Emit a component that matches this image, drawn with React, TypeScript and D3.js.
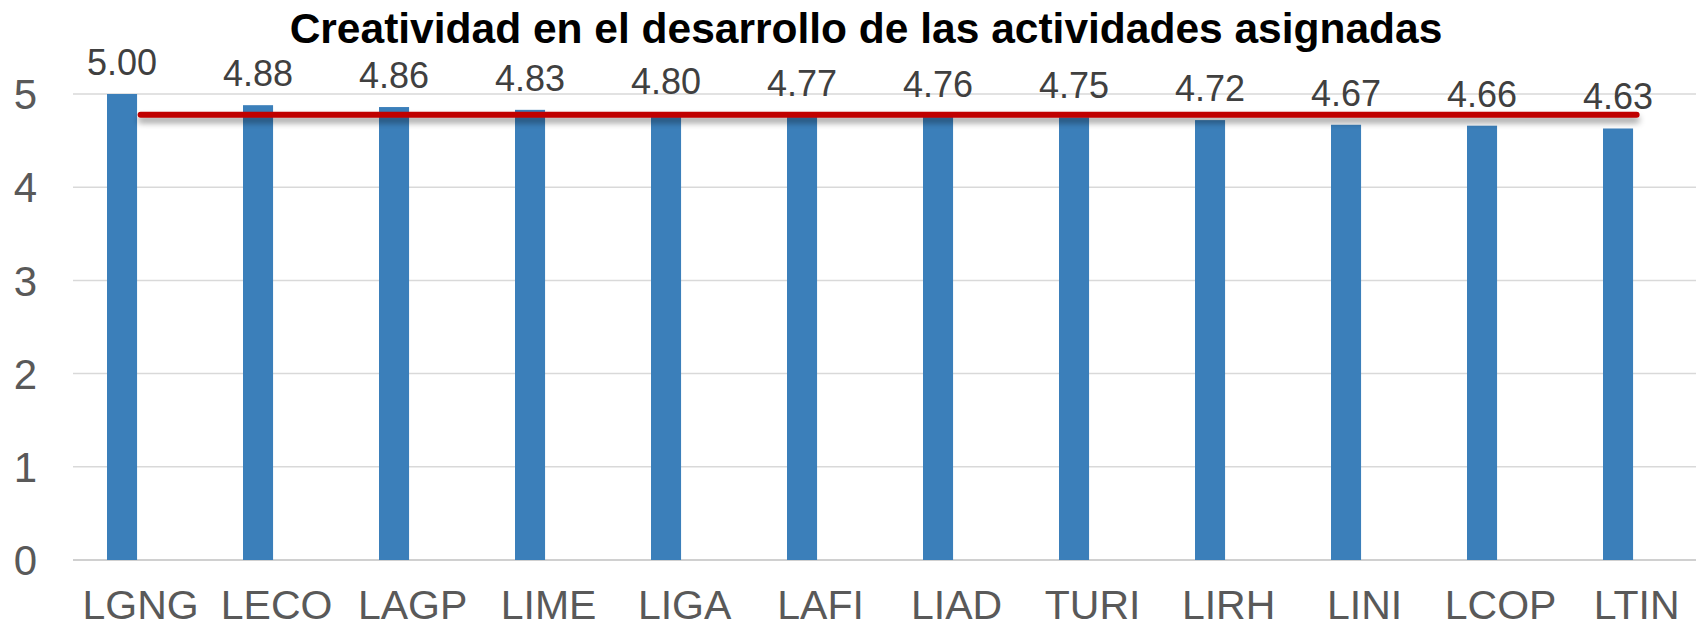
import React, { useEffect, useRef } from 'react';
import * as d3 from 'd3';

const width = 1696;
const height = 627;

const categories = ['LGNG', 'LECO', 'LAGP', 'LIME', 'LIGA', 'LAFI', 'LIAD', 'TURI', 'LIRH', 'LINI', 'LCOP', 'LTIN'];
const values = [5.0, 4.88, 4.86, 4.83, 4.8, 4.77, 4.76, 4.75, 4.72, 4.67, 4.66, 4.63];
const yTicks = [0, 1, 2, 3, 4, 5];
const title = 'Creatividad en el desarrollo de las actividades asignadas';

const CreatividadChart: React.FC = () => {
  const ref = useRef<SVGSVGElement>(null);

  useEffect(() => {
    document.body.style.margin = '0';
    if (!ref.current) return;
    const svg = d3.select(ref.current);
    svg.selectAll('*').remove();

    const font = '"Liberation Sans", Arial, sans-serif';
    const plotLeft = 72.6;
    const band = 136;

    const x = d3
      .scaleBand<string>()
      .domain(categories)
      .range([plotLeft, plotLeft + band * categories.length])
      .padding(0);
    const y = d3.scaleLinear().domain([0, 5]).range([560, 94]);
    const bw = x.bandwidth();
    const barOffset = bw * 0.253;
    const barWidth = bw * 0.221;

    const avg = d3.mean(values) as number;

    // horizontal line has zero-height bbox, so the filter needs user space units
    const defs = svg.append('defs');
    const shadow = defs
      .append('filter')
      .attr('id', 'lineShadow')
      .attr('filterUnits', 'userSpaceOnUse')
      .attr('x', 0)
      .attr('y', 0)
      .attr('width', width)
      .attr('height', height);
    shadow
      .append('feDropShadow')
      .attr('dx', 0)
      .attr('dy', 5)
      .attr('stdDeviation', 3)
      .attr('flood-color', '#000')
      .attr('flood-opacity', 0.4);

    // gridlines
    svg
      .append('g')
      .selectAll('line')
      .data(yTicks)
      .enter()
      .append('line')
      .attr('x1', 73)
      .attr('x2', width)
      .attr('y1', d => y(d))
      .attr('y2', d => y(d))
      .attr('stroke', d => (d === 0 ? '#d0d0d0' : '#d9d9d9'))
      .attr('stroke-width', d => (d === 0 ? 2 : 1.5));

    // y labels
    svg
      .append('g')
      .selectAll('text')
      .data(yTicks)
      .enter()
      .append('text')
      .attr('x', 37)
      .attr('y', d => y(d))
      .attr('dy', '0.36em')
      .attr('text-anchor', 'end')
      .attr('font-family', font)
      .attr('font-size', 42)
      .attr('fill', '#595959')
      .text(d => d);

    // bars
    svg
      .append('g')
      .selectAll('rect')
      .data(values)
      .enter()
      .append('rect')
      .attr('x', (d, i) => (x(categories[i]) as number) + barOffset)
      .attr('y', d => y(d))
      .attr('width', barWidth)
      .attr('height', d => y(0) - y(d))
      .attr('fill', '#3b7fba');

    // average line
    const line = d3
      .line<number>()
      .x((d, i) => (x(categories[i]) as number) + bw / 2)
      .y(() => y(avg));
    svg
      .append('path')
      .datum(values)
      .attr('d', line)
      .attr('fill', 'none')
      .attr('stroke', '#c00000')
      .attr('stroke-width', 6)
      .attr('stroke-linecap', 'round')
      .attr('filter', 'url(#lineShadow)');

    // data labels
    svg
      .append('g')
      .selectAll('text')
      .data(values)
      .enter()
      .append('text')
      .attr('x', (d, i) => (x(categories[i]) as number) + barOffset + barWidth / 2)
      .attr('y', d => y(d) - 19)
      .attr('text-anchor', 'middle')
      .attr('font-family', font)
      .attr('font-size', 36)
      .attr('fill', '#404040')
      .text(d => d.toFixed(2));

    // category labels
    svg
      .append('g')
      .selectAll('text')
      .data(categories)
      .enter()
      .append('text')
      .attr('x', d => (x(d) as number) + bw / 2)
      .attr('y', 619)
      .attr('text-anchor', 'middle')
      .attr('font-family', font)
      .attr('font-size', 41)
      .attr('fill', '#595959')
      .text(d => d);

    // title
    svg
      .append('text')
      .attr('x', 866)
      .attr('y', 43)
      .attr('text-anchor', 'middle')
      .attr('font-family', font)
      .attr('font-size', 42.5)
      .attr('font-weight', 'bold')
      .attr('fill', '#000')
      .text(title);
  }, []);

  return <svg ref={ref} width={width} height={height} style={{ display: 'block', background: '#fff' }} />;
};

export default function App() {
  return <CreatividadChart />;
}
